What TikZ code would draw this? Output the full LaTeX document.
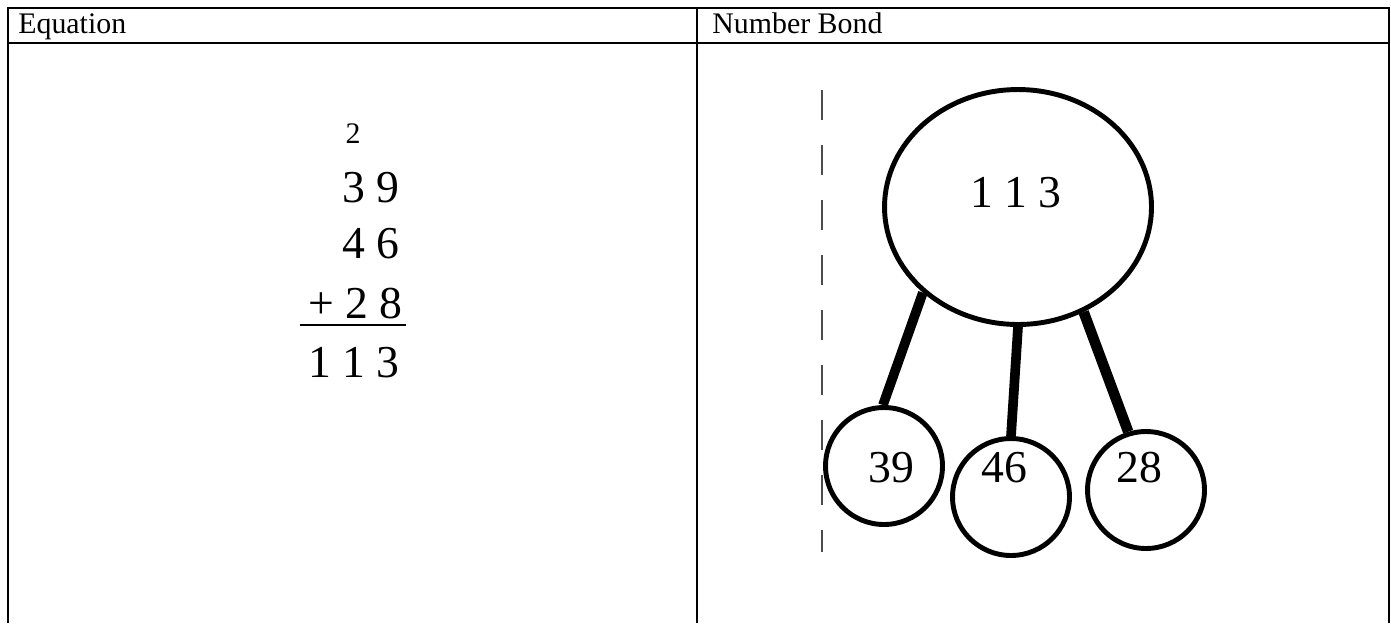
\documentclass[tikz,border=0pt]{standalone}
\usepackage{fontspec}
\setmainfont{Liberation Serif}
\usetikzlibrary{shapes.geometric}

\begin{document}
\begin{tikzpicture}[x=0.02cm,y=-0.02cm,
  rule/.style={line width=1.2pt},
  head/.style={anchor=base west,inner sep=0pt,font=\fontsize{17}{20}\selectfont},
  digits/.style={inner sep=0pt,font=\fontsize{26}{30}\selectfont},
  bond/.style={draw,line width=2.8pt,inner sep=0pt},
  tie/.style={line width=5.5pt}]
\useasboundingbox (0,0) rectangle (1391,623);
\draw[rule] (8,623) -- (8,8) -- (1389,8) -- (1389,623);
\draw[rule] (8,43) -- (1389,43);
\draw[rule] (697,8) -- (697,623);
\node[head] (eqhead) at (18,33) {Equation};
\node[head] (bondhead) at (712,33) {Number Bond};

\node[digits,anchor=base,font=\fontsize{17}{20}\selectfont] (carry) at (353,143) {2};
\node[digits,anchor=base east] (first) at (400,202) {3 9};
\node[digits,anchor=base east] (second) at (400,258) {4 6};
\node[digits,anchor=base east] (third) at (403,318) {+ 2 8};
\draw[line width=1.5pt] (300,325) -- (406,325);
\node[digits,anchor=base east] (sum) at (400,377) {1 1 3};

\draw[black!70,line width=0.8pt,dash pattern=on 0.6cm off 0.5cm] (822,90) -- (822,552);
\node[bond,ellipse,minimum width=5.34cm,minimum height=4.7cm] (whole) at (1018,207) {};
\node[digits,anchor=base] (wholenum) at (1016,207) {1 1 3};
\node[bond,circle,minimum size=2.34cm] (p39) at (884,466) {};
\node[bond,circle,minimum size=2.34cm] (p46) at (1011,497) {};
\node[bond,circle,minimum size=2.34cm] (p28) at (1146,490) {};
\node[digits,anchor=base] (n39) at (891,482) {39};
\node[digits,anchor=base] (n46) at (1004,482) {46};
\node[digits,anchor=base] (n28) at (1139,482) {28};
\draw[tie] (whole.-138) -- (p39.91);
\draw[tie] (whole.-90) -- (p46.90);
\draw[tie,line width=6pt] (whole.-58) -- (p28.107);

\end{tikzpicture}
\end{document}
